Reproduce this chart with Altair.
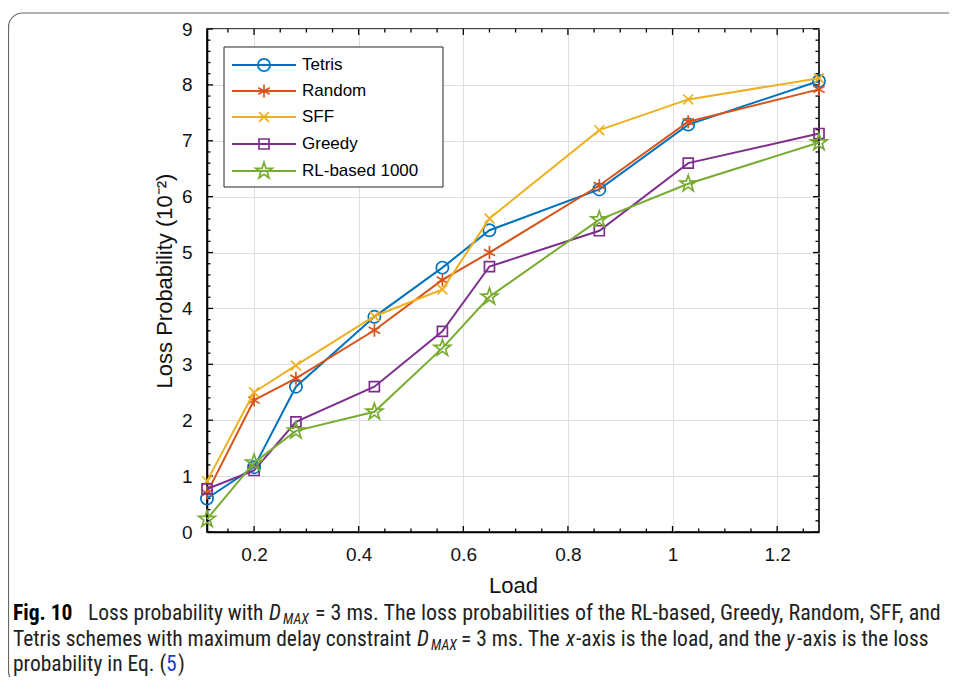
import altair as alt
import pandas as pd

# ---------------- data ----------------
load = [0.11, 0.2, 0.28, 0.43, 0.56, 0.65, 0.86, 1.03, 1.28]
tetris = [0.60, 1.16, 2.60, 3.85, 4.73, 5.40, 6.13, 7.29, 8.07]
random_ = [0.70, 2.36, 2.75, 3.61, 4.51, 5.00, 6.20, 7.34, 7.92]
sff = [0.91, 2.50, 2.98, 3.86, 4.34, 5.61, 7.19, 7.74, 8.12]
greedy = [0.77, 1.10, 1.97, 2.60, 3.59, 4.75, 5.39, 6.60, 7.13]
rl = [0.23, 1.24, 1.81, 2.15, 3.29, 4.21, 5.59, 6.23, 6.97]

series_names = ["Tetris", "Random", "SFF", "Greedy", "RL-based 1000"]
series_values = [tetris, random_, sff, greedy, rl]
colors = ["#0072BD", "#D95319", "#EDB120", "#7E2F8E", "#77AC30"]

x_major = [0.2, 0.4, 0.6, 0.8, 1.0, 1.2]
x_minor = [0.15, 0.25, 0.3, 0.35, 0.45, 0.5, 0.55, 0.65, 0.7, 0.75, 0.85, 0.9, 0.95,
           1.05, 1.1, 1.15, 1.25]
y_major = [0, 1, 2, 3, 4, 5, 6, 7, 8, 9]
y_minor = [round(i * 0.2, 1) for i in range(46) if i % 5 != 0]

# marker shapes (MATLAB-like)
ASTER = "M0,-1L0,1M-0.87,-0.5L0.87,0.5M-0.87,0.5L0.87,-0.5"
XMARK = "M-0.8,-0.8L0.8,0.8M-0.8,0.8L0.8,-0.8"
STAR = ("M0,-1L0.2245,-0.309L0.951,-0.309L0.363,0.118L0.588,0.809L0,0.382"
        "L-0.588,0.809L-0.363,0.118L-0.951,-0.309L-0.2245,-0.309Z")
shapes = ["circle", ASTER, XMARK, "square", STAR]
sizes = [150, 170, 150, 100, 300]

rows = []
for name, vals in zip(series_names, series_values):
    for xv, yv in zip(load, vals):
        rows.append({"series": name, "load": xv, "loss": yv})
df = pd.DataFrame(rows)

W, H = 612, 503
FONT = "Liberation Sans"
CAPFONT = "Roboto Condensed"
S = 21.5

xscale = alt.Scale(domain=[0.11, 1.28], nice=False, zero=False)
yscale = alt.Scale(domain=[0, 9], nice=False, zero=True)
xaxis = alt.Axis(values=x_major, format="~g", title="Load", grid=True,
                 tickSize=0, labelPadding=13, titlePadding=11)
yaxis = alt.Axis(values=y_major, format="d", title="Loss Probability (10⁻²)",
                 grid=True, tickSize=0, labelPadding=15, titlePadding=5)

layers = []

# frame around figure (decoration)
frame = alt.Chart(pd.DataFrame({"a": [0]})).mark_rect(
    fill=None, stroke="#666666", strokeWidth=1.2, cornerRadius=14
).encode(x=alt.value(-198.5), x2=alt.value(780), y=alt.value(-16), y2=alt.value(656))
layers.append(frame)

# grid + axes (base layer)
base = alt.Chart(df).mark_line(opacity=0).encode(
    x=alt.X("load:Q", scale=xscale, axis=xaxis),
    y=alt.Y("loss:Q", scale=yscale, axis=yaxis),
)
layers.append(base)


# inward ticks on all four sides
def xtick_layers(vals, length):
    d = pd.DataFrame({"load": vals})
    out = []
    for y0, y1 in ((H, H - length), (0, length)):
        out.append(alt.Chart(d).mark_rule(color="black", strokeWidth=1.3).encode(
            x=alt.X("load:Q", scale=xscale, axis=xaxis),
            y=alt.value(y0), y2=alt.value(y1)))
    return out


def ytick_layers(vals, length):
    d = pd.DataFrame({"loss": vals})
    out = []
    for x0, x1 in ((0, length), (W, W - length)):
        out.append(alt.Chart(d).mark_rule(color="black", strokeWidth=1.3).encode(
            y=alt.Y("loss:Q", scale=yscale, axis=yaxis),
            x=alt.value(x0), x2=alt.value(x1)))
    return out


layers += xtick_layers(x_major, 6) + xtick_layers(x_minor, 3.5)
layers += ytick_layers(y_major, 6) + ytick_layers(y_minor, 3.5)

# series lines + markers
for name, col, shp, sz in zip(series_names, colors, shapes, sizes):
    sub = alt.Chart(df).transform_filter(alt.datum.series == name)
    enc = dict(x=alt.X("load:Q", scale=xscale, axis=xaxis),
               y=alt.Y("loss:Q", scale=yscale, axis=yaxis))
    layers.append(sub.mark_line(color=col, strokeWidth=2).encode(**enc))
    layers.append(sub.mark_point(shape=shp, color=col, filled=False, size=sz,
                                 strokeWidth=1.7, opacity=1).encode(**enc))

# legend (manual, MATLAB style)
LX0, LX1, LY0, LY1 = 17, 236, 18, 158
legend_box = alt.Chart(pd.DataFrame({"a": [0]})).mark_rect(
    fill="white", stroke="#262626", strokeWidth=1
).encode(x=alt.value(LX0), x2=alt.value(LX1), y=alt.value(LY0), y2=alt.value(LY1))
layers.append(legend_box)
legend_y = [36, 62, 88, 115, 142]
for name, col, shp, sz, ly in zip(series_names, colors, shapes, sizes, legend_y):
    one = alt.Chart(pd.DataFrame({"label": [name]}))
    layers.append(one.mark_rule(color=col, strokeWidth=2).encode(
        x=alt.value(25), x2=alt.value(89), y=alt.value(ly)))
    layers.append(one.mark_point(shape=shp, color=col, filled=False, size=sz,
                                 strokeWidth=1.7, opacity=1).encode(
        x=alt.value(57), y=alt.value(ly)))
    layers.append(one.mark_text(align="left", baseline="middle", font=FONT,
                                fontSize=17, color="black").encode(
        x=alt.value(95), y=alt.value(ly), text="label:N"))

# caption (text segments)
OX, OY = 207, 29
TXT = "#222222"
cap = [
    # text, page x, baseline page y, weight, style, size, color
    ("Fig. 10", 13, 620, "bold", "normal", S, "black"),
    ("Loss probability with", 88, 620, "normal", "normal", S, TXT),
    ("D", 269, 620, "normal", "italic", S, TXT),
    ("MAX", 283, 624, "normal", "italic", 14, TXT),
    ("= 3 ms. The loss probabilities of the RL-based, Greedy, Random, SFF, and",
     315, 620, "normal", "normal", 22, TXT),
    ("Tetris schemes with maximum delay constraint", 13, 646, "normal", "normal", S, TXT),
    ("D", 417, 646, "normal", "italic", S, TXT),
    ("MAX", 431, 650, "normal", "italic", 14, TXT),
    ("= 3 ms. The", 461, 646, "normal", "normal", S, TXT),
    ("x", 566, 646, "normal", "italic", S, TXT),
    ("-axis is the load, and the", 576, 646, "normal", "normal", S, TXT),
    ("y", 786, 646, "normal", "italic", S, TXT),
    ("-axis is the loss", 797, 646, "normal", "normal", S, TXT),
    ("probability in Eq. (", 13, 671, "normal", "normal", S, TXT),
    ("5", 166, 671, "normal", "normal", S, "#1a3ccc"),
    (")", 178, 671, "normal", "normal", S, TXT),
]
for t, px, py, wt, st, fs, c in cap:
    layers.append(alt.Chart(pd.DataFrame({"t": [t]})).mark_text(
        align="left", baseline="alphabetic", font=CAPFONT, fontSize=fs,
        fontWeight=wt, fontStyle=st, color=c
    ).encode(x=alt.value(px - OX), y=alt.value(py - OY), text="t:N"))

chart = alt.layer(*layers).properties(
    width=W, height=H,
    autosize=alt.AutoSizeParams(type="none"),
    padding={"left": 199, "top": 21, "right": 130, "bottom": 145},
).configure_view(stroke="black", strokeWidth=1.6).configure_axis(
    domainColor="black", domainWidth=1.6, gridColor="#dedede", gridWidth=1,
    labelFont=FONT, labelFontSize=19, labelColor="#111111",
    titleFont=FONT, titleFontSize=22, titleFontWeight="normal", titleColor="#111111",
)

chart.save("out.html", embed_options={"renderer": "svg", "actions": False})
